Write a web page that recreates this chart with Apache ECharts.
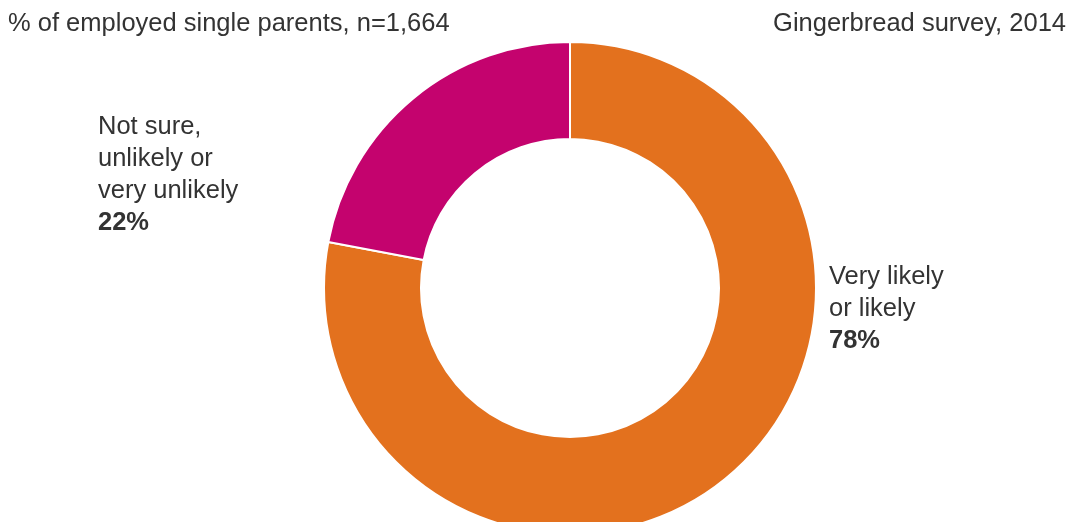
<!DOCTYPE html>
<html>
<head>
<meta charset="utf-8">
<script src="https://cdn.jsdelivr.net/npm/echarts@6/dist/echarts.min.js"></script>
<style>
  html, body { margin: 0; padding: 0; background: #fff; }
  #chart { width: 1069px; height: 522px; }
</style>
</head>
<body>
<div id="chart"></div>
<script>
// data
const categories = ['Very likely\nor likely', 'Not sure,\nunlikely or\nvery unlikely']
const values = [78, 22]
const colors = ['#E3711E', '#C4036E']
const subtitleLeft = '% of employed single parents, n=1,664'
const subtitleRight = 'Gingerbread survey, 2014'

// label anchor positions (px)
const labelPos = [
  { x: 829, y: 309 },
  { x: 98, y: 175 },
]

const chart = echarts.init(document.getElementById('chart'))

const font = '"Liberation Sans", Arial, sans-serif'

chart.setOption({
  animation: false,
  title: [
    {
      text: subtitleLeft,
      left: 3,
      top: 6,
      textStyle: { fontFamily: font, fontSize: 25.5, fontWeight: 'normal', color: '#333' },
    },
    {
      text: subtitleRight,
      right: -2,
      top: 6,
      textStyle: { fontFamily: font, fontSize: 25.5, fontWeight: 'normal', color: '#333' },
    },
  ],
  series: [
    {
      type: 'pie',
      center: [570, 288],
      radius: [149, 246],
      startAngle: 90,
      clockwise: true,
      itemStyle: { borderColor: '#fff', borderWidth: 2 },
      labelLine: { show: false },
      label: {
        show: true,
        formatter: (p) => `{a|${p.name}}\n{b|${p.value}%}`,
        rich: {
          a: { fontFamily: font, fontSize: 25.5, lineHeight: 32, color: '#333' },
          b: { fontFamily: font, fontSize: 25.5, lineHeight: 32, fontWeight: 'bold', color: '#333' },
        },
      },
      labelLayout: (params) => ({
        x: labelPos[params.dataIndex].x,
        y: labelPos[params.dataIndex].y,
        align: 'left',
        verticalAlign: 'middle',
      }),
      data: categories.map((name, i) => ({
        name,
        value: values[i],
        itemStyle: { color: colors[i] },
      })),
    },
  ],
})
</script>
</body>
</html>
